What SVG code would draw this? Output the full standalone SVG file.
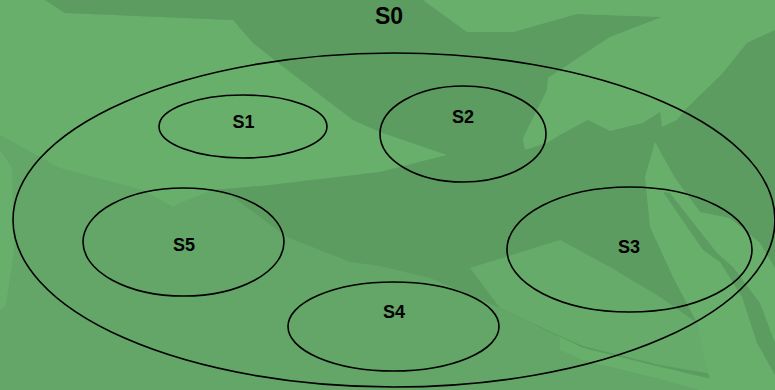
<svg xmlns="http://www.w3.org/2000/svg" width="775" height="390" viewBox="0 0 775 390">
  <style>
    .bg-mid { fill: #63a667; }
    .bg-soft { fill: #66ab6a; }
    .bg-light { fill: #69af6c; }
    .bg-dark { fill: #5d9c61; }
    .set { fill: none; stroke: #000; stroke-width: 1.6; }
    .label { font-family: "Liberation Sans", Arial, sans-serif; font-weight: bold; font-size: 18px; fill: #000; text-anchor: middle; }
    .title { font-size: 23px; }
  </style>

  <!-- background: faceted green terrain -->
  <g id="background">
    <rect class="bg-mid" x="0" y="0" width="775" height="390"/>
    <!-- light upper-left slope -->
    <polygon class="bg-light" points="0,0 45,0 65,13 233,20 253,43 277,62 353,120 380,132 447,155 380,172 270,185 213,190 180,203 173,207 143,190 60,168 0,135"/>
    <polygon class="bg-light" points="0,150 12,168 14,250 6,305 0,310"/>
    <!-- dark ridge along the top -->
    <polygon class="bg-dark" points="45,0 423,0 467,32 513,32 577,14 662,17 610,37 548,78 547,90 523,138 525,150 447,155 380,132 353,120 277,62 253,43 233,20 65,13"/>
    <!-- light upper-right slope -->
    <polygon class="bg-light" points="423,0 775,0 775,30 747,43 723,73 685,110 677,120 662,127 660,112 643,123 610,131 588,120 560,135 547,143 525,150 523,138 547,90 548,78 610,37 662,17 577,14 513,32 467,32"/>
    <polygon class="bg-light" points="637,63 775,2 775,6 645,62"/>
    <!-- dark central basin -->
    <polygon class="bg-dark" points="775,30 747,43 723,73 685,110 677,120 662,127 660,112 643,123 610,131 588,120 560,135 547,143 525,150 447,155 380,172 270,185 213,190 233,197 287,237 350,262 380,266 430,278 500,308 560,337 583,348 660,367 720,381 750,390 775,390"/>
    <!-- softer strip below S3 -->
    <polygon class="bg-soft" points="470,268 560,240 610,267 660,297 697,323 712,374 660,365 583,346 560,336 500,308"/>
    <!-- light vertical strip on the right -->
    <polygon class="bg-light" points="655,142 675,178 700,212 730,218 760,243 775,268 775,390 712,390 697,323 673,277 650,227 645,177"/>
    <!-- thin dark gully -->
    <polygon class="bg-dark" points="663,192 670,193 717,253 733,267 760,303 775,343 775,375 757,343 742,297 720,262 703,250"/>
    <!-- lower slope below the band -->
    <polygon class="bg-mid" points="300,250 350,272 380,280 430,292 500,322 560,350 583,360 660,379 700,390 290,390"/>
    <polygon class="bg-light" points="583,360 660,379 700,390 775,390 775,388 720,381 660,367 583,348 560,337 560,350"/>
  </g>

  <g id="S0">
    <ellipse class="set" cx="394" cy="220" rx="381" ry="167"/>
    <text class="label title" x="389" y="24">S0</text>
  </g>
  <g id="S1">
    <ellipse class="set" cx="243" cy="126.5" rx="84" ry="31.5"/>
    <text class="label" x="243.5" y="127.5">S1</text>
  </g>
  <g id="S2">
    <ellipse class="set" cx="463" cy="134" rx="83" ry="48"/>
    <text class="label" x="463" y="122.5">S2</text>
  </g>
  <g id="S3">
    <ellipse class="set" cx="629.5" cy="249.5" rx="122.5" ry="62.5"/>
    <text class="label" x="629" y="252.5">S3</text>
  </g>
  <g id="S4">
    <ellipse class="set" cx="393.5" cy="326.5" rx="105.5" ry="44.5"/>
    <text class="label" x="394" y="317.5">S4</text>
  </g>
  <g id="S5">
    <ellipse class="set" cx="183.5" cy="242" rx="100.5" ry="54"/>
    <text class="label" x="184" y="250.5">S5</text>
  </g>
  <g id="connectors"/>
</svg>
